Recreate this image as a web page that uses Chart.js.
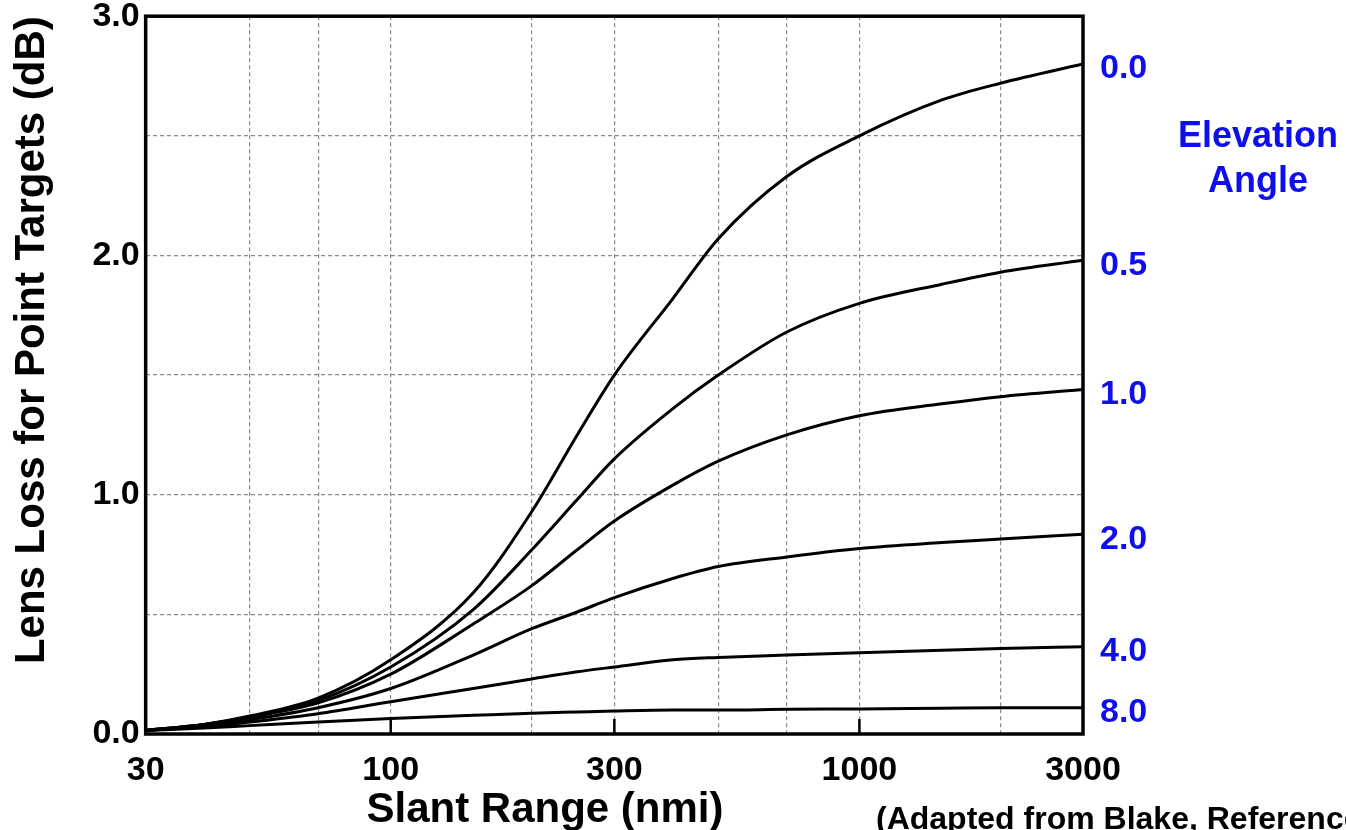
<!DOCTYPE html>
<html>
<head>
<meta charset="utf-8">
<title>Lens Loss for Point Targets</title>
<script src="https://cdn.jsdelivr.net/npm/chart.js@4.4.1/dist/chart.umd.min.js"></script>
<style>
    html, body { margin: 0; padding: 0; background: #fff; }
    #wrap { width: 1346px; height: 830px; position: relative; }
</style>
</head>
<body>
<div id="wrap"><canvas id="lens-loss-chart"></canvas></div>
<script>
const slantRange = [30, 40, 50, 70, 100, 150, 200, 250, 300, 400, 500, 700, 1000, 1500, 2000, 3000];
// lens loss (dB) for each elevation angle
const lossEl00 = [0.015, 0.04, 0.075, 0.15, 0.31, 0.59, 0.93, 1.25, 1.50, 1.82, 2.07, 2.33, 2.50, 2.65, 2.72, 2.80];
const lossEl05 = [0.015, 0.04, 0.07, 0.14, 0.28, 0.52, 0.77, 0.98, 1.15, 1.36, 1.50, 1.68, 1.80, 1.88, 1.93, 1.98];
const lossEl10 = [0.015, 0.04, 0.07, 0.13, 0.25, 0.46, 0.62, 0.77, 0.89, 1.04, 1.14, 1.25, 1.33, 1.38, 1.41, 1.44];
const lossEl20 = [0.015, 0.035, 0.06, 0.11, 0.19, 0.33, 0.44, 0.51, 0.57, 0.65, 0.70, 0.74, 0.775, 0.80, 0.815, 0.835];
const lossEl40 = [0.015, 0.03, 0.05, 0.085, 0.135, 0.19, 0.23, 0.26, 0.28, 0.31, 0.32, 0.33, 0.34, 0.35, 0.357, 0.365];
const lossEl80 = [0.015, 0.025, 0.035, 0.05, 0.065, 0.078, 0.087, 0.092, 0.096, 0.10, 0.10, 0.103, 0.105, 0.108, 0.11, 0.11];
const elevationNames = ['0.0', '0.5', '1.0', '2.0', '4.0', '8.0'];
// axis ticks
const xGridValues = [30, 50, 70, 100, 200, 300, 500, 700, 1000, 2000, 3000];
const xLabelValues = [30, 100, 300, 1000, 3000];
const xInnerTicks = [100, 300, 1000];
const yLabelValues = [0, 1, 2, 3];

const BLUE = '#0f0fec';
const FONT = '"Liberation Sans", Arial, Helvetica, sans-serif';

const allLoss = [lossEl00, lossEl05, lossEl10, lossEl20, lossEl40, lossEl80];
const datasets = allLoss.map((arr, i) => ({
    label: elevationNames[i],
    data: slantRange.map((r, j) => ({x: r, y: arr[j]})),
    borderColor: '#000',
    borderWidth: 3,
    pointRadius: 0,
    fill: false,
    cubicInterpolationMode: 'monotone'
}));

// box, inner ticks, curve labels and notes
const extrasPlugin = {
    id: 'extras',
    afterDatasetsDraw(chart) {
        const {ctx, chartArea: a, scales} = chart;
        ctx.save();
        ctx.strokeStyle = '#000';
        ctx.lineWidth = 2.5;
        xInnerTicks.forEach(v => {
            const x = scales.x.getPixelForValue(v);
            ctx.beginPath();
            ctx.moveTo(x, a.bottom);
            ctx.lineTo(x, a.bottom - 15);
            ctx.stroke();
        });
        ctx.lineWidth = 3.5;
        ctx.strokeRect(a.left, a.top, a.right - a.left, a.bottom - a.top);

        ctx.fillStyle = BLUE;
        ctx.font = 'bold 34px ' + FONT;
        ctx.textAlign = 'left';
        ctx.textBaseline = 'middle';
        chart.data.datasets.forEach(ds => {
            const last = ds.data[ds.data.length - 1];
            ctx.fillText(ds.label, a.right + 17, scales.y.getPixelForValue(last.y) + 5);
        });
        ctx.textAlign = 'center';
        ctx.font = 'bold 36px ' + FONT;
        ctx.fillText('Elevation', a.right + 175, a.top + 121);
        ctx.fillText('Angle', a.right + 175, a.top + 166);

        ctx.fillStyle = '#000';
        ctx.textBaseline = 'alphabetic';
        ctx.font = 'bold 42px ' + FONT;
        ctx.fillText('Slant Range (nmi)', 545, 822);
        ctx.textAlign = 'left';
        ctx.font = 'bold 32px ' + FONT;
        ctx.fillText('(Adapted from Blake, Reference', 876, 829);
        ctx.restore();
    }
};

const isEdge = (v, lo, hi) => Math.abs(v - lo) < 1e-9 || Math.abs(v - hi) < 1e-9;

new Chart(document.getElementById('lens-loss-chart'), {
    type: 'line',
    data: {datasets: datasets},
    options: {
        responsive: true,
        maintainAspectRatio: false,
        animation: false,
        layout: {padding: {left: 4, right: 263, top: 10, bottom: 22}},
        plugins: {
            legend: {display: false},
            tooltip: {enabled: false}
        },
        scales: {
            x: {
                type: 'logarithmic',
                min: 30,
                max: 3000,
                afterBuildTicks: scale => {
                    scale.ticks = xGridValues.map(v => ({value: v}));
                },
                ticks: {
                    autoSkip: false,
                    maxRotation: 0,
                    padding: 20,
                    color: '#000',
                    font: {family: FONT, size: 34, weight: 'bold', lineHeight: 1},
                    callback: v => xLabelValues.includes(v) ? String(v) : ''
                },
                grid: {
                    drawTicks: false,
                    lineWidth: 1.2,
                    color: c => (c.tick && isEdge(c.tick.value, 30, 3000)) ? 'rgba(0,0,0,0)' : '#8a8a8a'
                },
                border: {display: false, dash: [4, 3]}
            },
            y: {
                type: 'linear',
                min: 0,
                max: 3,
                ticks: {
                    stepSize: 0.5,
                    padding: 6,
                    color: '#000',
                    font: {family: FONT, size: 34, weight: 'bold', lineHeight: 0.6},
                    callback: v => yLabelValues.some(t => Math.abs(t - v) < 1e-9) ? v.toFixed(1) : ''
                },
                grid: {
                    drawTicks: false,
                    lineWidth: 1.2,
                    color: c => (c.tick && isEdge(c.tick.value, 0, 3)) ? 'rgba(0,0,0,0)' : '#8a8a8a'
                },
                border: {display: false, dash: [4, 3]},
                title: {
                    display: true,
                    text: 'Lens Loss for Point Targets (dB)',
                    align: 'end',
                    color: '#000',
                    font: {family: FONT, size: 42, weight: 'bold', lineHeight: 1.2},
                    padding: {top: 3, bottom: 29}
                }
            }
        }
    },
    plugins: [extrasPlugin]
});
</script>
</body>
</html>
